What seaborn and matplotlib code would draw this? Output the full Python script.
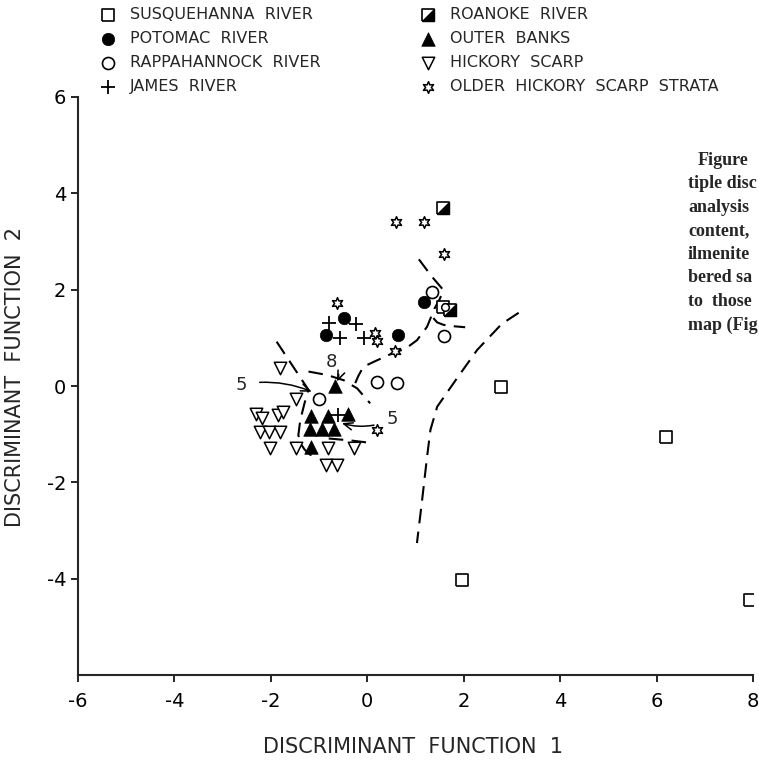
import numpy as np
import matplotlib
matplotlib.use('Agg')
import matplotlib.pyplot as plt
import seaborn as sns

sns.set_style('ticks')
plt.rcParams['font.family'] = ['DejaVu Sans']
plt.rcParams['axes.unicode_minus'] = False

## 数据 ##
susq_x = [1.58, 2.77, 6.20, 1.97, 7.93]
susq_y = [1.65, -0.03, -1.06, -4.02, -4.44]

potomac_x = [-0.85, -0.48, 0.63, 1.18]
potomac_y = [1.05, 1.42, 1.05, 1.74]

rapp_x = [1.34, 1.60, -1.01, 0.21, 0.62]
rapp_y = [1.96, 1.04, -0.28, 0.09, 0.06]
# the small circle drawn inside the square near (1.6, 1.6)
rapp_inner_x = [1.62]
rapp_inner_y = [1.63]

james_x = [-0.80, -0.23, -0.57, -0.06, -0.60]
james_y = [1.30, 1.29, 1.00, 0.99, -0.60]

roanoke_x = [1.57, 1.72]
roanoke_y = [3.69, 1.58]

outer_x = [-0.66, -1.17, -0.82, -0.41, -1.18, -0.94, -0.70, -1.17]
outer_y = [0.01, -0.63, -0.63, -0.59, -0.90, -0.90, -0.90, -1.27]

hickory_x = [-1.82, -1.47, -2.30, -2.18, -1.86, -1.74, -2.23, -2.03, -1.82,
             -2.01, -1.47, -0.82, -0.27, -0.85, -0.62]
hickory_y = [0.37, -0.28, -0.59, -0.66, -0.60, -0.55, -0.96, -0.96, -0.96,
             -1.28, -1.28, -1.29, -1.29, -1.63, -1.63]

older_x = [0.60, 1.18, 1.60, -0.62, 0.17, 0.21, 0.58, 0.20]
older_y = [3.41, 3.41, 2.74, 1.73, 1.11, 0.94, 0.72, -0.92]

# hand drawn group boundaries (dashed)
b_right_x = [3.14, 2.79, 2.28, 1.86, 1.45, 1.31, 1.24, 1.13, 1.03]
b_right_y = [1.52, 1.29, 0.75, 0.16, -0.43, -0.91, -1.47, -2.43, -3.26]

b_upper_x = [1.07, 1.34, 1.58, 1.50, 1.39, 1.24, 1.03, 0.80, 0.48, 0.13, -0.08, -0.18, -0.25]
b_upper_y = [2.63, 2.27, 1.99, 1.80, 1.60, 1.23, 0.95, 0.78, 0.66, 0.50, 0.40, 0.22, 0.06]

b_hook_x = [1.37, 1.45, 1.58, 1.80, 2.03]
b_hook_y = [1.41, 1.32, 1.27, 1.24, 1.22]

b_left_x = [-1.88, -1.55, -1.22, -1.30, -1.39, -1.43, -1.38, -1.30, -1.18, -1.04]
b_left_y = [0.92, 0.42, -0.08, -0.35, -0.71, -1.02, -1.20, -1.32, -1.43, -1.40]

b_arc_x = [-1.22, -0.84, -0.49, -0.21, 0.06]
b_arc_y = [0.30, 0.23, 0.12, -0.05, -0.36]

b_low_x = [-0.80, -0.35, 0.06]
b_low_y = [-1.09, -1.13, -1.18]

boundaries = [(b_right_x, b_right_y), (b_upper_x, b_upper_y), (b_hook_x, b_hook_y),
              (b_left_x, b_left_y), (b_arc_x, b_arc_y), (b_low_x, b_low_y)]

labels = ['SUSQUEHANNA  RIVER', 'POTOMAC  RIVER', 'RAPPAHANNOCK  RIVER', 'JAMES  RIVER',
          'ROANOKE  RIVER', 'OUTER  BANKS', 'HICKORY  SCARP', 'OLDER  HICKORY  SCARP  STRATA']

caption = ['Figure', 'tiple disc', 'analysis', 'content,', 'ilmenite',
           'bered sa', 'to  those', 'map (Fig']

## 画图 ##
fig = plt.figure(figsize=(7.59, 7.60), dpi=100)
ax = fig.add_axes([78/759, 1-675/760, 675/759, 578/760])

for bx, by in boundaries:
    ax.plot(bx, by, color='black', lw=1.5, linestyle=(0, (7, 4)), zorder=1)

square = [(-1, -1), (1, -1), (1, 1), (-1, 1), (-1, -1)]
half = [(-1, -1), (1, -1), (1, 1), (-1, -1)]
star6 = (6, 1, 0)

handles = []
sns.scatterplot(x=susq_x, y=susq_y, marker=square, s=75, color='white',
                edgecolor='black', linewidth=1.2, ax=ax, zorder=3)
handles.append(ax.collections[-1])
sns.scatterplot(x=potomac_x, y=potomac_y, marker='o', s=80, color='black',
                edgecolor='black', linewidth=0.5, ax=ax, zorder=3)
handles.append(ax.collections[-1])
sns.scatterplot(x=rapp_x, y=rapp_y, marker='o', s=75, color='white',
                edgecolor='black', linewidth=1.2, ax=ax, zorder=4)
handles.append(ax.collections[-1])
sns.scatterplot(x=rapp_inner_x, y=rapp_inner_y, marker='o', s=30, color='white',
                edgecolor='black', linewidth=1.1, ax=ax, zorder=5)
sns.scatterplot(x=james_x, y=james_y, marker='+', s=90, color='black',
                linewidth=1.3, ax=ax, zorder=3)
handles.append(ax.collections[-1])
sns.scatterplot(x=roanoke_x, y=roanoke_y, marker=square, s=75, color='white',
                edgecolor='black', linewidth=1.2, ax=ax, zorder=3)
rq = ax.collections[-1]
sns.scatterplot(x=roanoke_x, y=roanoke_y, marker=half, s=75, color='black',
                edgecolor='black', linewidth=1.0, ax=ax, zorder=3)
handles.append((rq, ax.collections[-1]))
sns.scatterplot(x=outer_x, y=outer_y, marker='^', s=95, color='black',
                edgecolor='black', linewidth=0.5, ax=ax, zorder=3)
handles.append(ax.collections[-1])
sns.scatterplot(x=hickory_x, y=hickory_y, marker='v', s=80, color='white',
                edgecolor='black', linewidth=1.1, ax=ax, zorder=3)
handles.append(ax.collections[-1])
sns.scatterplot(x=older_x, y=older_y, marker=star6, s=70, color='white',
                edgecolor='black', linewidth=1.1, ax=ax, zorder=4)
handles.append(ax.collections[-1])

# 注释箭头
arr = dict(arrowstyle='->,head_length=0.5,head_width=0.2', color='black', lw=1.1)
ax.annotate('5', xy=(-1.15, -0.12), xytext=(-2.62, 0.03), fontsize=13, ha='center', va='center',
            arrowprops=dict(arr, connectionstyle='arc3,rad=-0.15', shrinkA=7, shrinkB=0))
ax.annotate('8', xy=(-0.63, 0.09), xytext=(-0.74, 0.50), fontsize=13, ha='center', va='center',
            arrowprops=dict(arr, connectionstyle='arc3,rad=-0.4', shrinkA=6, shrinkB=0))
ax.annotate('5', xy=(-0.53, -0.77), xytext=(0.52, -0.68), fontsize=13, ha='center', va='center',
            arrowprops=dict(arr, connectionstyle='arc3,rad=-0.2', shrinkA=7, shrinkB=0))

ax.set_xlim(-6, 8)
ax.set_ylim(-6, 6)
ax.set_xticks(np.arange(-6, 9, 2))
ax.set_yticks(np.arange(-4, 7, 2))
sns.despine(ax=ax)
for sp in ['left', 'bottom']:
    ax.spines[sp].set_linewidth(1.5)
ax.tick_params(direction='out', length=5, width=1.2, labelsize=14, colors='black')
ax.tick_params(axis='x', pad=7)
ax.set_xlabel('DISCRIMINANT  FUNCTION  1', fontsize=15)
ax.set_ylabel('DISCRIMINANT  FUNCTION  2', fontsize=15)
ax.xaxis.set_label_coords(0.496, -0.107)
ax.yaxis.set_label_coords(-0.0785, 0.516)

leg = fig.legend(handles, labels, ncol=2, loc='upper left',
                 bbox_to_anchor=(100/759, 1-7/760), frameon=False, fontsize=11.5,
                 scatterpoints=1, handlelength=1.0, handletextpad=0.9,
                 columnspacing=6.2, labelspacing=0.56, borderpad=0, borderaxespad=0)

# 右侧被截断的图注文字
for i, line in enumerate(caption):
    x0 = 698 if i == 0 else 688
    fig.text(x0/759, 1-(165 + 23.5*i)/760, line, fontsize=13, fontweight='bold',
             family=['Liberation Serif', 'DejaVu Serif'], va='baseline', ha='left')

fig.savefig('out.png', dpi=100)
